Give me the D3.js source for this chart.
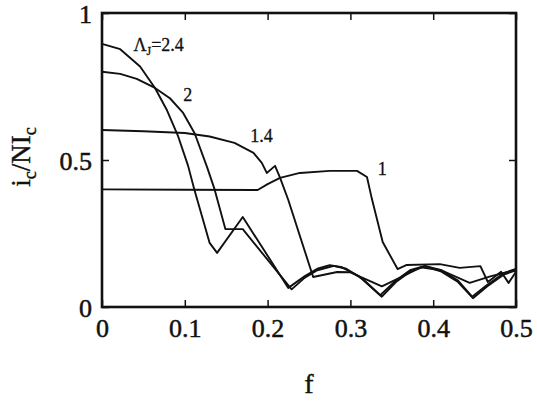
<!DOCTYPE html>
<html>
<head>
<meta charset="utf-8">
<script src="https://cdn.jsdelivr.net/npm/d3@7"></script>
<style>
  body { margin: 0; background: #fff; }
  svg text { font-family: "Liberation Serif", "DejaVu Serif", serif; }
</style>
</head>
<body>
<div id="container"></div>
<script>
const dimensions = {
	width: 537,
	height: 405,
	margin: { left: 102, right: 21, top: 13, bottom: 98 }
}

// tick values and labels
const xTicks = [0, 0.1, 0.2, 0.3, 0.4, 0.5];
const xTickLabels = ["0", "0.1", "0.2", "0.3", "0.4", "0.5"];
const yTicks = [0, 0.5, 1];
const yTickLabels = ["0", "0.5", "1"];

// Lambda_J = 2.4
const f24 = [0, 0.022, 0.046, 0.064, 0.078, 0.092, 0.104, 0.111, 0.130, 0.139, 0.170,
	0.225, 0.245, 0.260, 0.275, 0.290, 0.310, 0.336, 0.355, 0.372, 0.390, 0.410, 0.430, 0.447, 0.465, 0.485, 0.500];
const i24 = [0.895, 0.877, 0.818, 0.745, 0.672, 0.580, 0.480, 0.405, 0.218, 0.184, 0.306,
	0.065, 0.105, 0.130, 0.142, 0.135, 0.105, 0.040, 0.090, 0.125, 0.140, 0.125, 0.090, 0.035, 0.075, 0.115, 0.130];

// Lambda_J = 2
const f2 = [0, 0.022, 0.042, 0.064, 0.082, 0.098, 0.112, 0.127, 0.136, 0.149, 0.170,
	0.229, 0.245, 0.260, 0.280, 0.295, 0.315, 0.338, 0.355, 0.372, 0.390, 0.410, 0.430, 0.448, 0.465, 0.485, 0.500];
const i2 = [0.800, 0.793, 0.776, 0.745, 0.710, 0.660, 0.590, 0.475, 0.400, 0.265, 0.265,
	0.060, 0.100, 0.125, 0.140, 0.130, 0.095, 0.035, 0.085, 0.120, 0.138, 0.120, 0.085, 0.030, 0.070, 0.110, 0.125];

// Lambda_J = 1.4
const f14 = [0, 0.05, 0.10, 0.13, 0.16, 0.183, 0.193, 0.199, 0.209, 0.215, 0.225, 0.255,
	0.284, 0.300, 0.338, 0.360, 0.385, 0.410, 0.444, 0.470, 0.500];
const i14 = [0.602, 0.598, 0.592, 0.580, 0.558, 0.524, 0.490, 0.456, 0.480, 0.440, 0.364, 0.102,
	0.119, 0.118, 0.070, 0.100, 0.135, 0.125, 0.082, 0.105, 0.126];

// Lambda_J = 1
const f1 = [0, 0.10, 0.188, 0.200, 0.215, 0.239, 0.275, 0.308, 0.320, 0.326, 0.339, 0.357,
	0.368, 0.408, 0.432, 0.457, 0.466, 0.482, 0.491, 0.500];
const i1 = [0.400, 0.399, 0.398, 0.418, 0.439, 0.456, 0.463, 0.463, 0.442, 0.367, 0.221, 0.129,
	0.143, 0.146, 0.133, 0.139, 0.085, 0.120, 0.082, 0.120];

const series = [
	{ f: f24, i: i24 },
	{ f: f2, i: i2 },
	{ f: f14, i: i14 },
	{ f: f1, i: i1 },
];

const w = dimensions.width - dimensions.margin.left - dimensions.margin.right;
const h = dimensions.height - dimensions.margin.top - dimensions.margin.bottom;

const svg = d3.select("#container")
	.append("svg")
	.attr("width", dimensions.width)
	.attr("height", dimensions.height)

const g = svg.append("g")
	.attr("transform", `translate(${dimensions.margin.left}, ${dimensions.margin.top})`)

const x = d3.scaleLinear().domain([0, 0.5]).range([0, w]);
const y = d3.scaleLinear().domain([0, 1]).range([h, 0]);

// curves
const line = d3.line()
	.x(d => x(d[0]))
	.y(d => y(d[1]))

g.selectAll("path.curve")
	.data(series)
	.enter()
	.append("path")
	.attr("class", "curve")
	.attr("d", s => line(s.f.map((v, k) => [v, s.i[k]])))
	.attr("fill", "none")
	.attr("stroke", "#111")
	.attr("stroke-width", 1.9)
	.attr("stroke-linejoin", "round")

// axes, ticks pointing inward
const fmtX = d => xTickLabels[xTicks.indexOf(d)];
const fmtY = d => yTickLabels[yTicks.indexOf(d)];

const xAxis = g.append("g")
	.attr("transform", `translate(0, ${h})`)
	.call(d3.axisBottom(x).tickValues(xTicks).tickFormat(fmtX).tickSize(-7).tickPadding(12))
const yAxis = g.append("g")
	.call(d3.axisLeft(y).tickValues(yTicks).tickFormat(fmtY).tickSize(-7).tickPadding(10))
g.append("g")
	.call(d3.axisTop(x).tickValues(xTicks).tickFormat("").tickSize(-7))
g.append("g")
	.attr("transform", `translate(${w}, 0)`)
	.call(d3.axisRight(y).tickValues(yTicks).tickFormat("").tickSize(-7))

g.selectAll(".domain").remove()
g.selectAll(".tick line").attr("stroke", "#111").attr("stroke-width", 1.5)
xAxis.selectAll("text").attr("font-size", 26).attr("fill", "#111")
	.attr("stroke", "#111").attr("stroke-width", 0.5)
yAxis.selectAll("text").attr("font-size", 26).attr("fill", "#111")
	.attr("stroke", "#111").attr("stroke-width", 0.5)
	.attr("dy", "0.36em")

// frame
g.append("rect")
	.attr("width", w)
	.attr("height", h)
	.attr("fill", "none")
	.attr("stroke", "#111")
	.attr("stroke-width", 2.6)

// curve labels
const lab = g.append("g").attr("font-size", 18).attr("fill", "#111")
	.attr("stroke", "#111").attr("stroke-width", 0.3)
const t24 = lab.append("text").attr("x", x(0.038)).attr("y", y(0.872))
t24.append("tspan").text("Λ")
t24.append("tspan").text("J").attr("font-size", 12).attr("dy", 4)
t24.append("tspan").text("=2.4").attr("dy", -4)
lab.append("text").attr("x", x(0.098)).attr("y", y(0.70)).text("2")
lab.append("text").attr("x", x(0.179)).attr("y", y(0.56)).text("1.4")
lab.append("text").attr("x", x(0.333)).attr("y", y(0.448)).text("1")

// axis titles
svg.append("text")
	.attr("x", dimensions.margin.left + w / 2)
	.attr("y", 393)
	.attr("text-anchor", "middle")
	.attr("font-size", 28)
	.attr("fill", "#111")
	.attr("stroke", "#111").attr("stroke-width", 0.4)
	.text("f")

const yt = svg.append("text")
	.attr("transform", "translate(30, 157) rotate(-90)")
	.attr("text-anchor", "middle")
	.attr("font-size", 27)
	.attr("fill", "#111")
	.attr("stroke", "#111").attr("stroke-width", 0.4)
yt.append("tspan").text("i")
yt.append("tspan").text("c").attr("font-size", 18).attr("dy", 6)
yt.append("tspan").text("/NI").attr("dy", -6)
yt.append("tspan").text("c").attr("font-size", 18).attr("dy", 6)
</script>
</body>
</html>
